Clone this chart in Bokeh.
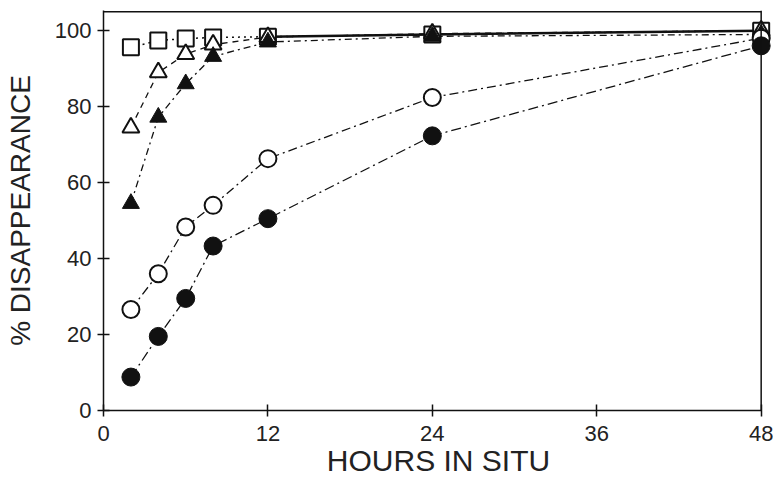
from bokeh.plotting import figure
from bokeh.models import Range1d, FixedTicker, Span
from bokeh.embed import file_html
from bokeh.resources import INLINE

hours = [2, 4, 6, 8, 12, 24, 48]
filled_circles = [8.8, 19.5, 29.5, 43.3, 50.5, 72.3, 96]
open_circles = [26.6, 36.0, 48.3, 54.0, 66.3, 82.4, 98]
filled_triangles = [54.5, 77.2, 86.0, 93.2, 97.0, 98.5, 99]
open_triangles = [74.5, 89.0, 93.8, 96.3, 98.3, 99.2, 100]
open_squares = [95.6, 97.4, 97.9, 98.2, 98.4, 99.0, 100]
x_ticks = [0, 12, 24, 36, 48]
y_ticks = [0, 20, 40, 60, 80, 100]

INK = "#111111"
TXT = "#222222"
FONT = "Liberation Sans"

p = figure(width=773, height=481, output_backend="svg", toolbar_location=None,
           x_range=Range1d(0, 48.9), y_range=Range1d(0, 105.3),
           min_border_left=103, min_border_right=0, min_border_top=10,
           min_border_bottom=71)
p.outline_line_color = None
p.grid.visible = False
p.background_fill_color = "white"

# frame lines (top and right)
p.segment(x0=[0], y0=[105.0], x1=[48], y1=[105.0], line_color=INK, line_width=1.5)
p.add_layout(Span(location=48, dimension="height", line_color=INK, line_width=1.5))

# series lines
p.line(hours, open_squares, line_color=INK, line_width=1.5, line_dash="2 4")
p.line(hours[4:], open_squares[4:], line_color=INK, line_width=2.5)
p.line(hours, open_triangles, line_color=INK, line_width=1.3, line_dash="6 5")
p.line(hours, filled_triangles, line_color=INK, line_width=1.3, line_dash="7 4 2 4")
p.line(hours, open_circles, line_color=INK, line_width=1.3, line_dash="9 4 2 4")
p.line(hours, filled_circles, line_color=INK, line_width=1.3, line_dash="10 4 2 4")

# markers
p.scatter(hours, open_squares, marker="square", size=16, fill_color="white",
          line_color=INK, line_width=2)
p.scatter(hours, open_triangles, marker="triangle", size=17, fill_color="white",
          line_color=INK, line_width=2)
p.scatter(hours, filled_triangles, marker="triangle", size=17, fill_color=INK,
          line_color=INK, line_width=1)
p.scatter(hours, open_circles, marker="circle", size=17, fill_color="white",
          line_color=INK, line_width=2)
p.scatter(hours, filled_circles, marker="circle", size=18, fill_color=INK,
          line_color=INK, line_width=1)

for ax in (p.xaxis[0], p.yaxis[0]):
    ax.axis_line_color = INK
    ax.axis_line_width = 1.5
    ax.major_tick_line_color = INK
    ax.major_tick_line_width = 1.5
    ax.major_tick_in = 6
    ax.major_tick_out = 6
    ax.minor_tick_line_color = None
    ax.major_label_text_font = FONT
    ax.major_label_text_font_size = "22px"
    ax.major_label_text_color = TXT
    ax.axis_label_text_font = FONT
    ax.axis_label_text_font_style = "normal"
    ax.axis_label_text_color = TXT

p.xaxis.ticker = FixedTicker(ticks=x_ticks)
p.xaxis.bounds = (0, 48)
p.xaxis.major_label_standoff = 9
p.xaxis.axis_label = "HOURS IN SITU"
p.xaxis.axis_label_text_font_size = "30px"
p.xaxis.axis_label_standoff = 0

p.yaxis.ticker = FixedTicker(ticks=y_ticks)
p.yaxis.bounds = (0, 105.3)
p.yaxis.major_label_standoff = 6
p.yaxis.axis_label = "% DISAPPEARANCE"
p.yaxis.axis_label_text_font_size = "28px"
p.yaxis.axis_label_standoff = 16

open("out.html", "w").write(file_html(p, INLINE))
